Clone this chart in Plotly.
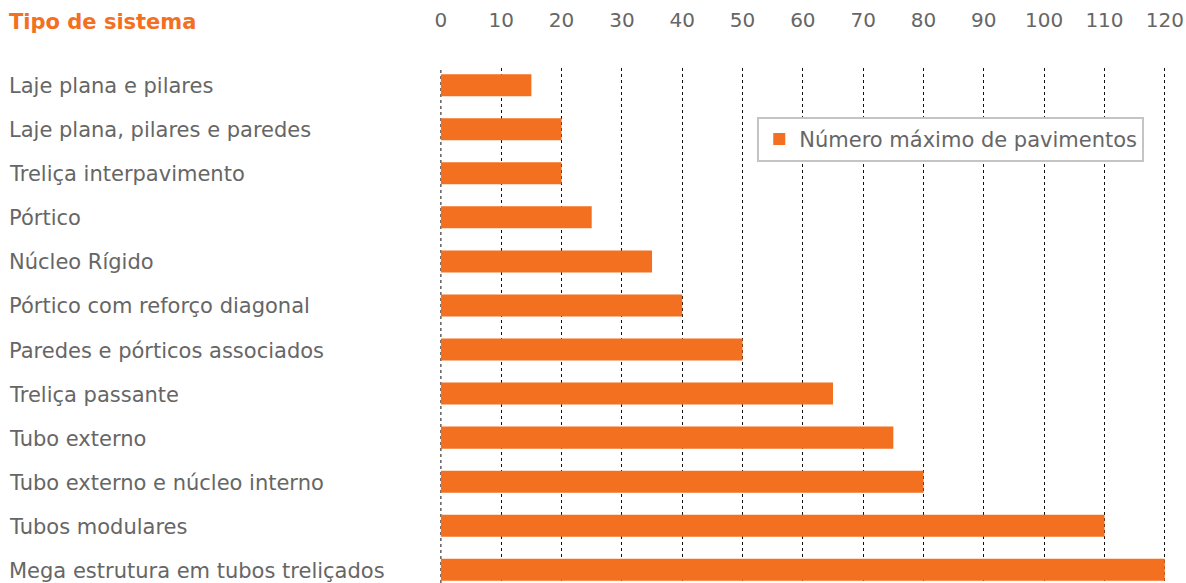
import plotly.graph_objects as go

categories = [
    "Laje plana e pilares",
    "Laje plana, pilares e paredes",
    "Treliça interpavimento",
    "Pórtico",
    "Núcleo Rígido",
    "Pórtico com reforço diagonal",
    "Paredes e pórticos associados",
    "Treliça passante",
    "Tubo externo",
    "Tubo externo e núcleo interno",
    "Tubos modulares",
    "Mega estrutura em tubos treliçados",
]
values = [15, 20, 20, 25, 35, 40, 50, 65, 75, 80, 110, 120]
series_name = "Número máximo de pavimentos"
x_ticks = [0, 10, 20, 30, 40, 50, 60, 70, 80, 90, 100, 110, 120]
header = "Tipo de sistema"

ORANGE = "#F37021"
GRAY = "#666666"
FONT = "DejaVu Sans"

fig = go.Figure()
fig.add_trace(go.Bar(
    x=values, y=list(range(len(categories))), orientation="h",
    name=series_name, marker=dict(color=ORANGE, line=dict(width=0)),
    width=0.5, showlegend=True,
))

for i, c in enumerate(categories):
    fig.add_annotation(x=0, xref="paper", xshift=-433, y=i, yref="y", yshift=-1,
                       text=c, showarrow=False, xanchor="left", yanchor="middle",
                       font=dict(family=FONT, size=21, color=GRAY))
fig.add_annotation(x=0, xref="paper", xshift=-433, y=1, yref="paper", yshift=46,
                   text="<b>" + header + "</b>", showarrow=False, xanchor="left", yanchor="middle",
                   font=dict(family=FONT, size=21, color=ORANGE))

# dotted line at the zero gridline position (plotly omits the gridline on the axis edge)
fig.add_vline(x=0, line=dict(color="#111111", width=1, dash="dot"), layer="below")

fig.update_layout(
    width=1186, height=583,
    margin=dict(l=440, r=20, t=68, b=0),
    paper_bgcolor="white", plot_bgcolor="white",
    font=dict(family=FONT, size=20, color=GRAY),
    xaxis=dict(side="top", range=[-0.15, 120.2], tickvals=x_ticks,
               ticktext=[str(t) for t in x_ticks],
               showgrid=True, gridcolor="#111111", gridwidth=1, griddash="dot",
               zeroline=False, showline=False, ticks="",
               ticklabelstandoff=36,
               tickfont=dict(family=FONT, size=20, color=GRAY)),
    yaxis=dict(range=[11.3, -0.39], showticklabels=False, showgrid=False,
               zeroline=False, ticks=""),
    legend=dict(x=0.437, y=0.905, xanchor="left", yanchor="top",
                bgcolor="white", bordercolor="#C4C4C4", borderwidth=2,
                font=dict(family=FONT, size=21, color=GRAY),
                itemsizing="constant"),
    bargap=0.5,
)

fig.write_html("out.html")
